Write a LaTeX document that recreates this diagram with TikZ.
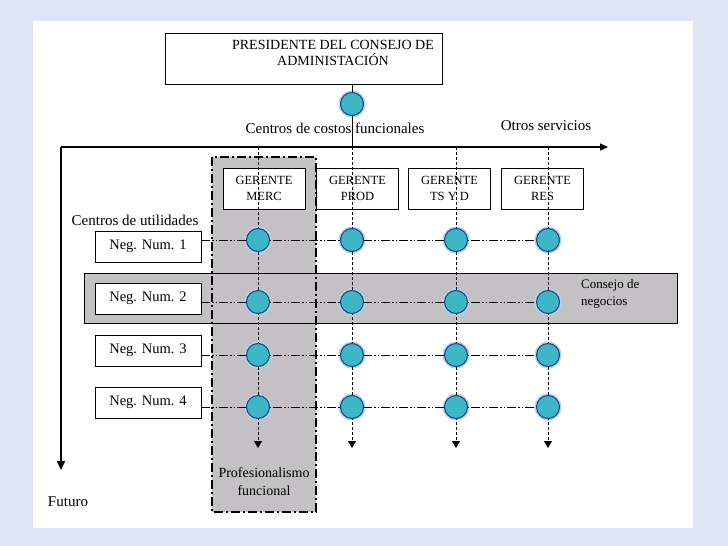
\documentclass[tikz,border=0pt]{standalone}
\usepackage{fontspec}
\setmainfont{Liberation Serif}
\usetikzlibrary{arrows.meta}
\definecolor{bgblue}{HTML}{DDE4F3}
\definecolor{colgray}{HTML}{C3C1C3}
\definecolor{dotfill}{HTML}{3DB6C6}
\definecolor{dotline}{HTML}{1B3F7E}
\definecolor{dotglow}{HTML}{B4D3F2}
\tikzset{
  box/.style={draw=black, line width=0.9pt, fill=white, inner sep=0pt},
  gbox/.style={box, minimum width=82pt, minimum height=41pt, font=\fontsize{12.5}{16}\selectfont, align=center},
  negbox/.style={box, minimum width=106pt, minimum height=31pt, font=\fontsize{14.5}{15}\selectfont},
  dot/.style={circle, draw=dotline, line width=1pt, fill=dotfill, minimum size=23pt, inner sep=0pt},
  glow/.style={circle, fill=dotglow, minimum size=27pt, inner sep=0pt},
  rowline/.style={line width=0.8pt, dash pattern=on 9pt off 2pt on 1.5pt off 2pt on 1.5pt off 2pt},
  colline/.style={line width=0.8pt, dash pattern=on 3pt off 2pt},
  colarrow/.style={colline, -{Triangle[length=7pt,width=8pt]}},
  lbl/.style={inner sep=0pt, font=\fontsize{15}{16}\selectfont},
}
\begin{document}
\begin{tikzpicture}[x=1pt,y=-1pt]
\useasboundingbox (0,0) rectangle (728,546);
\fill[bgblue] (0,0) rectangle (728,546);
\fill[white] (33,21) rectangle (693,528);

% gray column (fill)
\fill[colgray] (212,157) rectangle (316,512);
% consejo band
\draw[fill=colgray, line width=0.9pt] (84,273) rectangle (677,323);
% gray column border
\draw[line width=1.3pt, dash pattern=on 9pt off 3pt on 2pt off 3pt] (212,157) rectangle (316,512);

% president box
\node[box, minimum width=277pt, minimum height=51pt] (pres) at (303.5,58.5) {};
\node[inner sep=0pt, align=center, font=\fontsize{14}{16}\selectfont]
  (prestext) at (333,53) {PRESIDENTE DEL CONSEJO DE\\ADMINISTACIÓN};

% axes
\coordinate (origin) at (61,147);
\coordinate (xend) at (608,147);
\coordinate (yend) at (61,470);
\draw[line width=1.2pt, -{Triangle[length=8pt,width=7pt]}] (origin) -- (xend);
\draw[line width=2pt, -{Triangle[length=9pt,width=8pt]}] (origin) -- (yend);

% gerente boxes
\node[gbox] (g1) at (264,188.5) {GERENTE\\MERC};
\node[gbox] (g2) at (357.5,188.5) {GERENTE\\PROD};
\node[gbox] (g3) at (449.5,188.5) {GERENTE\\TS Y D};
\node[gbox] (g4) at (542.5,188.5) {GERENTE\\RES};

% neg boxes
\node[negbox] (n1) at (148,246.5) {Neg. Num. 1};
\node[negbox] (n2) at (148,298.5) {Neg. Num. 2};
\node[negbox] (n3) at (148,350.5) {Neg. Num. 3};
\node[negbox] (n4) at (148,402.5) {Neg. Num. 4};

% column tops and ends
\foreach \i/\x in {1/258,3/456,4/548}{
  \coordinate (t\i) at (\x,147);
}
\coordinate (t2) at (352,147);
\foreach \i/\x in {1/258,2/352,3/456,4/548}{
  \coordinate (e\i) at (\x,448);
}

% president link
\node[glow] (pglow) at (352,104) {};
\draw[line width=0.8pt] (pres.south -| t2) -- (t2);
\node[dot] (pc) at (352,104) {};

% glows
\foreach \r/\y in {1/240,2/302,3/355,4/407}{
  \foreach \c/\x in {1/258,2/352,3/456,4/548}{
    \node[glow] at (\x,\y) {};
  }
}

% row lines
\foreach \r/\y in {1/240,2/302,3/355,4/407}{
  \coordinate (r\r) at (548,\y);
  \draw[rowline] (n\r.east |- r\r) -- (r\r);
}
% column lines
\foreach \c in {1,2,3,4}{
  \draw[colarrow] (t\c) -- (e\c);
}

% dots
\foreach \r/\y in {1/240,2/302,3/355,4/407}{
  \foreach \c/\x in {1/258,2/352,3/456,4/548}{
    \node[dot] (c\r\c) at (\x,\y) {};
  }
}

% labels
\node[lbl] (lcc) at (335,128) {Centros de costos funcionales};
\node[lbl] (los) at (546,126) {Otros servicios};
\node[lbl] (lcu) at (135,220) {Centros de utilidades};
\node[lbl, anchor=west, align=left, font=\fontsize{13}{17}\selectfont] (lcn) at (581,294) {Consejo de\\negocios};
\node[lbl, align=center, font=\fontsize{14}{17.5}\selectfont] (lpf) at (264,481.5) {Profesionalismo\\funcional};
\node[lbl] (lfu) at (68,502) {Futuro};
\end{tikzpicture}
\end{document}
